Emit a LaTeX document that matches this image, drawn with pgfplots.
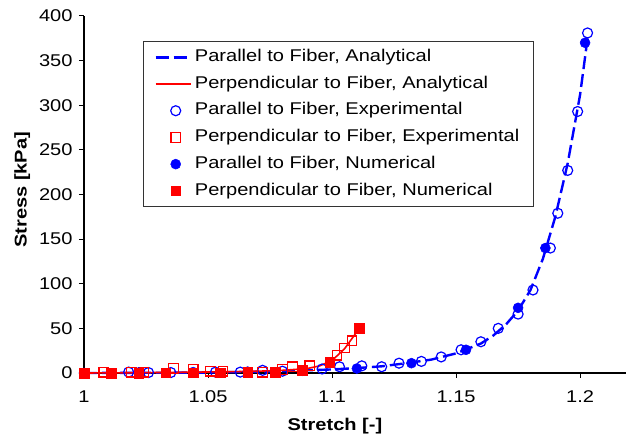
\documentclass[border=0pt]{standalone}
\usepackage{fontspec}
\setmainfont{Liberation Sans}[FakeStretch=1.18]
\usepackage{pgfplots}
\pgfplotsset{compat=1.18}
\definecolor{myblue}{RGB}{0,0,255}
\definecolor{myred}{RGB}{255,0,0}
\newcommand{\ff}{\fontsize{17bp}{20bp}\selectfont}
\pgfplotsset{
  lineleg/.style={legend image code/.code={\draw[##1] (0bp,0bp) -- (35bp,0bp);}},
  markleg/.style={legend image code/.code={\path[draw=none,fill=none] (0bp,0bp) -- (35bp,0bp); \draw[##1] plot[only marks] coordinates {(20bp,0bp)};}},
}
\begin{document}
\begin{tikzpicture}
\begin{axis}[
  scale only axis, width=542bp, height=357bp,
  xmin=1, xmax=1.2185, ymin=0, ymax=400,
  axis lines=left, axis line style={-, line width=1.2bp, black},
  xtick={1,1.05,1.1,1.15,1.2}, xticklabels={1,1.05,1.1,1.15,1.2},
  ytick={0,50,100,150,200,250,300,350,400},
  tick align=outside, major tick length=5bp, tick style={black, line width=1bp},
  /pgf/number format/assume math mode=true,
  tick label style={font=\ff},
  xticklabel style={yshift=-9bp},
  yticklabel style={xshift=-3bp},
  xlabel={\textbf{Stretch [-]}}, ylabel={\textbf{Stress [kPa]}},
  label style={font=\ff},
  xlabel style={at={(axis description cs:0.463,-0.148)}, anchor=center},
  ylabel style={at={(axis description cs:-0.114,0.513)}, anchor=center},
  clip=false,
  legend cell align=left,
  legend style={font=\ff, at={(axis description cs:0.1089,0.930)}, anchor=north west,
    draw=black!80, line width=1bp, inner xsep=11bp, inner ysep=2.5bp, row sep=0pt,
    nodes={text height=12bp, text depth=3.5bp, inner ysep=5.6bp, inner xsep=3bp}},
]
% Parallel analytical
\addplot[myblue, line width=2.4bp, dash pattern=on 13bp off 5bp, lineleg] coordinates {
(1,0) (1.05,0.5) (1.08,2) (1.1,4) (1.11,5.5) (1.12,7.5) (1.13,11) (1.14,15) (1.15,22)
(1.16,33) (1.165,42) (1.17,54) (1.175,70) (1.18,93) (1.185,128) (1.19,175) (1.195,235)
(1.2,312) (1.203,375)};
\addlegendentry{Parallel to Fiber, Analytical}
% Perpendicular analytical
\addplot[myred, line width=1.6bp, lineleg] coordinates {
(1,0) (1.02,0.3) (1.04,0.8) (1.06,1.5) (1.07,2) (1.08,3) (1.09,5) (1.095,8) (1.1,14)
(1.105,27) (1.111,50)};
\addlegendentry{Perpendicular to Fiber, Analytical}
% Parallel experimental
\addplot[only marks, mark=o, mark size=5bp, myblue, mark options={line width=1.2bp}, markleg] coordinates {
(1.018,1) (1.026,0.5) (1.035,0.5) (1.053,1) (1.063,1) (1.072,3) (1.080,2) (1.096,4.5)
(1.103,7) (1.112,8) (1.120,7) (1.127,11) (1.136,13) (1.144,18) (1.152,26) (1.160,35)
(1.167,50) (1.175,66) (1.181,93) (1.188,140) (1.191,179) (1.195,227) (1.199,293) (1.203,381)};
\addlegendentry{Parallel to Fiber, Experimental}
% Perpendicular experimental
\addplot[only marks, mark=square, mark size=4.8bp, myred, mark options={line width=1.2bp}, markleg] coordinates {
(1.008,1) (1.019,1) (1.024,1) (1.036,5) (1.044,4) (1.051,2) (1.056,2) (1.072,1)
(1.080,4) (1.084,7) (1.091,8) (1.102,20) (1.105,28) (1.108,36)};
\addlegendentry{Perpendicular to Fiber, Experimental}
% Parallel numerical
\addplot[only marks, mark=*, mark size=5bp, myblue, mark options={line width=0.5bp}, markleg] coordinates {
(1,0) (1.022,0.5) (1.044,1) (1.066,1.5) (1.088,2.5) (1.110,5) (1.132,11) (1.154,26)
(1.175,73) (1.186,140) (1.202,370)};
\addlegendentry{Parallel to Fiber, Numerical}
% Perpendicular numerical
\addplot[only marks, mark=square*, mark size=4.8bp, myred, mark options={line width=0.5bp}, markleg] coordinates {
(1,0) (1.011,0) (1.022,0) (1.033,0.5) (1.044,0.5) (1.055,0.5) (1.066,1) (1.077,1)
(1.088,3) (1.099,12) (1.111,50)};
\addlegendentry{Perpendicular to Fiber, Numerical}
\coordinate (O) at (rel axis cs:0,0);
\end{axis}
\pgfresetboundingbox
\path (O) ++(-84bp,-66bp) rectangle ++(626bp,439bp);
\end{tikzpicture}
\end{document}
